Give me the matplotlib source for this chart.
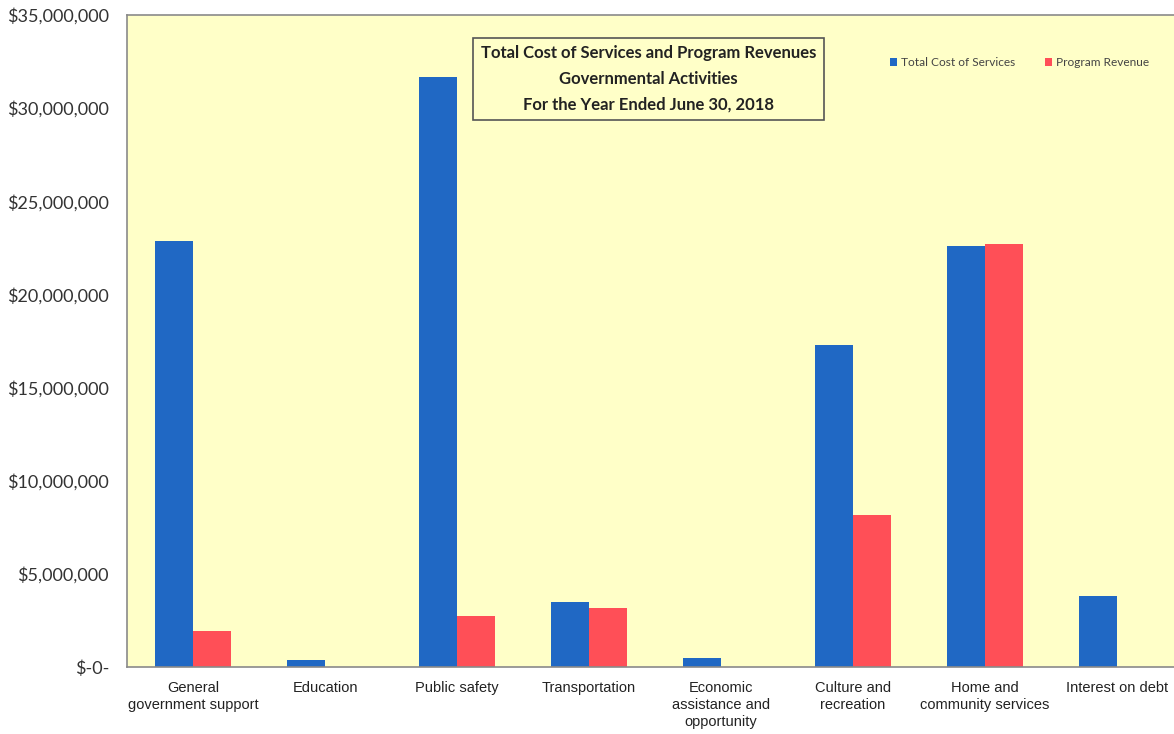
import matplotlib
matplotlib.use("Agg")
import matplotlib.pyplot as plt
import numpy as np
from matplotlib.ticker import FuncFormatter

categories = ["General\ngovernment support", "Education", "Public safety", "Transportation",
              "Economic\nassistance and\nopportunity", "Culture and\nrecreation",
              "Home and\ncommunity services", "Interest on debt"]
total_cost = [22.87e6, 0.38e6, 31.67e6, 3.49e6, 0.48e6, 17.28e6, 22.60e6, 3.81e6]
program_revenue = [1.93e6, 0, 2.74e6, 3.17e6, 0, 8.16e6, 22.70e6, 0]
yticks = [0, 5e6, 10e6, 15e6, 20e6, 25e6, 30e6, 35e6]

BLUE = "#2068C4"
RED = "#FF4F57"
BG = "#FFFFC8"

fig = plt.figure(figsize=(11.74, 7.34), dpi=100)
ax = fig.add_axes([127/1174, 67/734, 1056/1174, 652/734])
ax.set_facecolor(BG)

x = np.arange(len(categories))
w = 0.288
ax.bar(x - w/2, total_cost, w, color=BLUE, label="Total Cost of Services", zorder=2)
ax.bar(x + w/2, program_revenue, w, color=RED, label="Program Revenue", zorder=2)

ax.set_xlim(-0.5, len(categories) - 0.5)
ax.set_ylim(0, 35e6)
ax.set_yticks(yticks)
ax.yaxis.set_major_formatter(FuncFormatter(lambda v, p: "$-0-" if v == 0 else f"${v:,.0f}"))
ax.set_xticks(x)
ax.set_xticklabels(categories, fontsize=10.5, family="Liberation Sans", color="#222222",
                   linespacing=1.3)
for lab in ax.get_yticklabels():
    lab.set_family("Lato")
    lab.set_fontsize(13)
    lab.set_color("#333333")
ax.tick_params(axis="both", length=0)
ax.tick_params(axis="y", pad=13)
ax.tick_params(axis="x", pad=10)
for s in ax.spines.values():
    s.set_color("#8a8a8a")
    s.set_linewidth(1.2)

ax.text(0.494, 0.902, "Total Cost of Services and Program Revenues\nGovernmental Activities\nFor the Year Ended June 30, 2018",
        transform=ax.transAxes, ha="center", va="center", fontsize=12, fontweight="bold",
        family="Lato", color="#222222", linespacing=1.75,
        bbox=dict(boxstyle="square,pad=0.45", facecolor=BG, edgecolor="#555555", linewidth=1.2))

leg = ax.legend(loc="upper right", bbox_to_anchor=(0.978, 0.952), ncol=2, frameon=False,
                handlelength=0.6, handleheight=0.6, columnspacing=2.5,
                handletextpad=0.3, prop={"family": "Lato", "size": 8.6})
for t in leg.get_texts():
    t.set_color("#444444")

fig.savefig("out.png", dpi=100)
